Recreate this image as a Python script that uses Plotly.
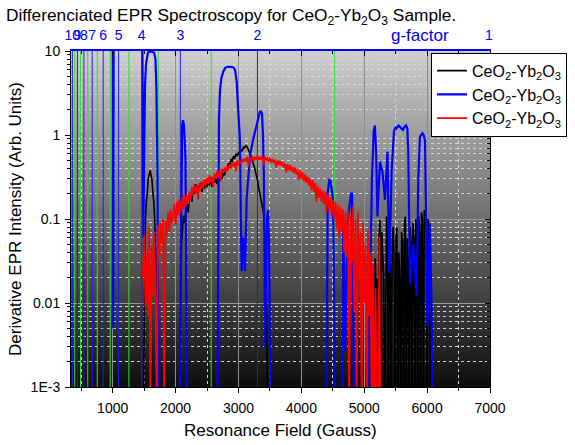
import plotly.graph_objects as go

# ------------------------------------------------------------------ data
x_tick_vals = [1000, 2000, 3000, 4000, 5000, 6000, 7000]
x_minor_vals = [500, 1500, 2500, 3500, 4500, 5500, 6500]
y_tick_vals = [0.001, 0.01, 0.1, 1, 10]
y_tick_text = ["1E-3", "0.01", "0.1", "1", "10"]

g_tick_vals = [1, 2, 3, 4, 5, 6, 7, 8, 9, 10]
g_tick_text = ["1", "2", "3", "4", "5", "6", "7", "8", "9", "10"]
g_marker_blue = [2, 3, 4, 5, 6, 7, 8, 9, 10]
g_marker_green = [1.5, 2.5, 3.5, 4.5, 5.5, 6.5, 7.5, 8.5, 9.5]

black_x = [1480, 1495, 1505, 1520, 1535, 1550, 1565, 1580, 1595, 1610, 1625, 1640, 1655, 1670, 1685, 1700, 1715,
           2060, 2080, 2095, 2110, 2125, 2140, 2160, 2180, 2200, 2220, 2240, 2260, 2280, 2300, 2320, 2340, 2360,
           2380, 2400, 2420, 2440, 2460, 2480, 2500, 2520, 2540, 2560, 2580, 2600, 2620, 2640, 2660, 2680, 2700,
           2720, 2740, 2760, 2780, 2800, 2820, 2840, 2860, 2880, 2900, 2920, 2940, 2960, 2980, 3000, 3020, 3040,
           3060, 3080, 3100, 3120, 3140, 3160, 3180, 3200, 3220, 3240, 3260, 3280, 3300, 3320, 3340, 3360, 3380,
           3400, 3420, 3440, 3455, 3470,
           5160, 5175, 5190, 5205, 5220, 5235, 5250, 5265, 5280, 5295, 5310, 5325, 5340, 5355, 5370, 5385, 5400,
           5415, 5430, 5445, 5460, 5475, 5490, 5505, 5520, 5535, 5550, 5565, 5580, 5595, 5610, 5625, 5640, 5655,
           5670, 5685, 5700, 5715, 5730, 5745, 5760, 5775, 5790, 5805, 5820, 5835, 5850, 5865, 5880, 5895, 5910,
           5925, 5940, 5955, 5970, 5985, 6000, 6015, 6030, 6045, 6060]
black_y = [0.0001, 0.002, 0.05, 0.1, 0.16, 0.2, 0.3, 0.35, 0.38, 0.33, 0.29, 0.2, 0.155, 0.09, 0.039, 0.01, 0.0002,
           0.0002, 0.0068, 0.05, 0.074, 0.11, 0.09, 0.13, 0.155, 0.12, 0.18, 0.2, 0.16, 0.23, 0.2, 0.26, 0.21, 0.25,
           0.22, 0.27, 0.21, 0.26, 0.23, 0.29, 0.24, 0.3, 0.25, 0.31, 0.24, 0.3, 0.27, 0.31, 0.26, 0.33, 0.29,
           0.35, 0.3, 0.36, 0.33, 0.4, 0.38, 0.46, 0.43, 0.52, 0.48, 0.56, 0.52, 0.6, 0.56, 0.63, 0.58, 0.68,
           0.64, 0.72, 0.7, 0.76, 0.72, 0.66, 0.61, 0.55, 0.5, 0.46, 0.4, 0.34, 0.3, 0.24, 0.2, 0.16, 0.13,
           0.117, 0.06, 0.02, 0.0025, 0.0001,
           0.0002, 0.034, 0.008, 0.02, 0.0003, 0.06, 0.098, 0.0002, 0.07, 0.03, 0.02, 0.0004, 0.04, 0.107, 0.06, 0.0002, 0.04,
           0.025, 0.0003, 0.05, 0.081, 0.03, 0.0002, 0.06, 0.08, 0.0003, 0.04, 0.02, 0.0002, 0.07, 0.05, 0.0003, 0.09, 0.107,
           0.0003, 0.06, 0.03, 0.0002, 0.08, 0.05, 0.0004, 0.09, 0.06, 0.0003, 0.1, 0.07, 0.0002, 0.11, 0.08, 0.0003, 0.12,
           0.1, 0.0002, 0.128, 0.09, 0.11, 0.0003, 0.1, 0.07, 0.0053, 0.0002]

blue_x = [340, 1000, 1008, 1016, 1470, 1488, 1500, 1514, 1530, 1545, 1561, 1590, 1630, 1660, 1680, 1694, 1704, 1714, 1724,
          2060, 2080, 2093, 2105, 2118, 2132, 2145, 2158, 2166, 2173, 2185,
          2660, 2674, 2690, 2706, 2730, 2759, 2790, 2833, 2880, 2918, 2945, 2960, 2972, 2992, 3010, 3024, 3038, 3051,
          3075, 3104, 3131, 3151, 3183, 3231, 3278, 3310, 3342, 3360, 3374, 3390, 3406, 3422, 3438, 3454, 3470, 3485,
          3501, 3515,
          4395, 4410, 4419, 4444, 4465, 4482, 4503, 4520, 4535, 4550,
          4650, 4667, 4694, 4740, 4790, 4805, 4826, 4845,
          5040, 5057, 5089, 5123, 5150, 5170, 5190, 5210, 5250, 5290, 5330, 5350, 5370, 5398, 5436, 5473, 5500, 5516,
          5545, 5568, 5590, 5616, 5640, 5664, 5685, 5700, 5727, 5775, 5834, 5860, 5886, 5905, 5926, 5945, 5966, 5985,
          6005, 6030, 6045, 6072, 6093]
blue_y = [30, 30, 0.005, 30, 30, 0.06, 0.5, 4, 7, 8.5, 9.6, 9.8, 9.8, 9.5, 8, 4, 1.5, 0.3, 0.0001,
          0.0001, 0.02, 0.6, 1.3, 1.5, 1.35, 0.9, 0.5, 0.05, 0.0036, 0.0001,
          0.0001, 0.06, 1.5, 3.4, 4.8, 5.7, 6.3, 6.5, 6.5, 6.4, 6.0, 5.0, 4.3, 2.2, 1.2, 0.87, 0.1, 0.024,
          0.06, 0.024, 0.18, 0.3, 0.55, 0.87, 1.2, 1.5, 1.9, 1.9, 1.8, 1.0, 0.3, 0.003, 0.02, 0.1, 0.128, 0.06,
          0.004, 0.0001,
          0.0001, 0.0063, 0.2, 0.3, 0.28, 0.23, 0.17, 0.02, 0.0027, 0.0001,
          0.0001, 0.089, 0.0027, 0.1, 0.2, 0.2, 0.0105, 0.0001,
          0.0001, 0.0015, 0.01, 0.3, 1.1, 1.3, 0.6, 0.107, 0.48, 0.36, 0.17, 0.4, 0.63, 0.023, 0.38, 1.1, 1.25, 1.2,
          1.3, 1.25, 1.2, 1.15, 1.25, 1.3, 1.2, 0.66, 0.017, 0.05, 0.012, 0.3, 0.95, 1.0, 1.05, 1.0, 0.87, 0.1,
          0.0053, 0.04, 0.089, 0.008, 0.0001]

# red spectrum: sampled every 20 G from 1480 G to 5260 G
red_x = list(range(1480, 5261, 20))
red_y = [0.02, 0.065, 0.009, 0.04, 0.007, 0.08, 0.0006, 0.05, 0.012, 0.07,
         0.02, 0.0004, 0.085, 0.035, 0.09, 0.05, 0.1, 0.0005, 0.095, 0.06,
         0.12, 0.07, 0.13, 0.09, 0.11, 0.15, 0.085, 0.16, 0.11, 0.17,
         0.12, 0.18, 0.13, 0.2, 0.14, 0.19, 0.15, 0.21, 0.17, 0.24,
         0.19, 0.26, 0.2, 0.25, 0.17, 0.27, 0.22, 0.28, 0.23, 0.3,
         0.25, 0.31, 0.26, 0.33, 0.27, 0.32, 0.24, 0.35, 0.3, 0.37,
         0.32, 0.38, 0.28, 0.4, 0.35, 0.41, 0.37, 0.43, 0.38, 0.45,
         0.4, 0.47, 0.42, 0.48, 0.37, 0.5, 0.44, 0.49, 0.46, 0.52,
         0.47, 0.53, 0.48, 0.55, 0.42, 0.54, 0.5, 0.56, 0.49, 0.55,
         0.51, 0.57, 0.5, 0.55, 0.51, 0.56, 0.44, 0.55, 0.5, 0.54,
         0.48, 0.53, 0.47, 0.52, 0.46, 0.51, 0.41, 0.5, 0.44, 0.49,
         0.43, 0.48, 0.41, 0.46, 0.36, 0.45, 0.38, 0.44, 0.37, 0.42,
         0.35, 0.41, 0.34, 0.39, 0.29, 0.38, 0.3, 0.36, 0.28, 0.34,
         0.27, 0.32, 0.25, 0.3, 0.22, 0.29, 0.21, 0.27, 0.16, 0.25,
         0.18, 0.23, 0.16, 0.22, 0.15, 0.21, 0.12, 0.2, 0.13, 0.18,
         0.11, 0.17, 0.1, 0.16, 0.075, 0.15, 0.06, 0.14, 0.07, 0.13,
         0.04, 0.12, 0.035, 0.13, 0.0005, 0.11, 0.03, 0.14, 0.008, 0.1,
         0.0003, 0.12, 0.02, 0.07, 0.0004, 0.09, 0.01, 0.05, 0.0003, 0.074,
         0.007, 0.04, 0.0002, 0.03, 0.0003, 0.015, 0.0002, 0.0002, 0.062, 0.0002]

legend_name = "CeO<sub>2</sub>-Yb<sub>2</sub>O<sub>3</sub>"
title_text = "Differenciated EPR Spectroscopy for CeO<sub>2</sub>-Yb<sub>2</sub>O<sub>3</sub> Sample."


def g_to_field(g):
    # field position (Gauss) of a g-factor tick on the top axis
    return 7361.0 / g - 378.0


# ------------------------------------------------------------------ figure
FONT = "Liberation Sans, Arial, sans-serif"
X_RANGE = [337, 7000]
Y_RANGE = [-3, 1]
y_minor_vals = [m * 10.0 ** e for e in range(-3, 1) for m in range(2, 10)]

fig = go.Figure()


def vlines(fields):
    xs, ys = [], []
    for f in fields:
        xs += [f, f, None]
        ys += [1e-4, 1e2, None]
    return xs, ys


gx, gy = vlines([g_to_field(g) for g in g_marker_green])
fig.add_trace(go.Scatter(x=gx, y=gy, mode="lines", line=dict(color="#2ee02e", width=1),
                         showlegend=False, hoverinfo="skip"))
bx, by = vlines([g_to_field(g) for g in g_marker_blue])
fig.add_trace(go.Scatter(x=bx, y=by, mode="lines", line=dict(color="#1a1aff", width=1),
                         showlegend=False, hoverinfo="skip"))

fig.add_trace(go.Scatter(x=black_x, y=black_y, mode="lines", name=legend_name,
                         line=dict(color="black", width=1.6), xaxis="x2", yaxis="y"))
fig.add_trace(go.Scatter(x=blue_x, y=blue_y, mode="lines", name=legend_name,
                         line=dict(color="#0000ff", width=2.2), xaxis="x2", yaxis="y"))
fig.add_trace(go.Scatter(x=red_x, y=red_y, mode="lines", name=legend_name,
                         line=dict(color="#ff0000", width=1.7), xaxis="x3", yaxis="y2"))

# gradient plot background
n = 90
shapes = []
for i in range(n):
    t0, t1 = i / n, (i + 1) / n
    v = int(round(14 + (206 - 14) * (t0 + t1) / 2))
    shapes.append(dict(type="rect", xref="x domain", yref="y domain", x0=0, x1=1,
                       y0=t0, y1=min(1, t1 + 0.003), fillcolor=f"rgb({v},{v},{v})",
                       line=dict(width=0), layer="below"))

tickfont = dict(family=FONT, size=14, color="black")

fig.update_layout(
    width=575, height=445, autosize=False,
    margin=dict(l=71, r=85, t=51, b=58, autoexpand=False),
    paper_bgcolor="white", plot_bgcolor="#777777",
    font=dict(family=FONT, size=14, color="black"),
    shapes=shapes,
    title=dict(text=title_text, x=0, xref="container", xanchor="left",
               y=1 - 15 / 445, yref="container", yanchor="middle", pad=dict(l=6, t=0, r=0, b=0),
               font=dict(family=FONT, size=17.3, color="black")),
    xaxis=dict(range=X_RANGE, tickmode="array", tickvals=x_tick_vals, ticks="outside", ticklen=5,
               tickcolor="black", showline=True, linecolor="black", linewidth=1, mirror=False,
               showgrid=True, gridcolor="#8e8e8e", gridwidth=1, zeroline=False, tickfont=tickfont,
               automargin=False, ticklabelstandoff=3,
               minor=dict(tickmode="array", tickvals=x_minor_vals, ticks="outside", ticklen=3,
                          tickcolor="black", showgrid=True, griddash="dot", gridcolor="#d6d6d6",
                          gridwidth=1)),
    yaxis=dict(type="log", range=Y_RANGE, tickmode="array", tickvals=y_tick_vals, ticktext=y_tick_text,
               ticks="outside", ticklen=5, tickcolor="black", showline=True, linecolor="black",
               linewidth=1, showgrid=True, gridcolor="#9a9a9a", gridwidth=1, zeroline=False,
               tickfont=tickfont, automargin=False, ticklabelstandoff=2,
               minor=dict(tickmode="array", tickvals=y_minor_vals, ticks="outside", ticklen=3,
                          tickcolor="black", showgrid=True, griddash="dot", gridcolor="#d6d6d6",
                          gridwidth=1)),
    xaxis2=dict(overlaying="x", side="top", anchor="y", range=X_RANGE, tickmode="array",
                tickvals=[g_to_field(g) for g in g_tick_vals], ticktext=g_tick_text, tickangle=0,
                ticks="", ticklabelstandoff=3, showline=True, linecolor="#0000ff", linewidth=2,
                showgrid=False, zeroline=False, automargin=False,
                tickfont=dict(family=FONT, size=14, color="#0000ff")),
    xaxis3=dict(overlaying="x", side="top", anchor="y2", range=X_RANGE, tickmode="array",
                tickvals=x_tick_vals, ticks="inside", ticklen=5, tickcolor="black",
                showticklabels=False, showline=False, showgrid=False, zeroline=False, automargin=False,
                minor=dict(tickmode="array", tickvals=x_minor_vals, ticks="inside", ticklen=3,
                           tickcolor="black", showgrid=False)),
    yaxis2=dict(overlaying="y", side="right", anchor="x3", type="log", range=Y_RANGE, tickmode="array",
                tickvals=y_tick_vals, ticks="inside", ticklen=5, tickcolor="black", showticklabels=False,
                showline=True, linecolor="black", linewidth=1, showgrid=False, zeroline=False,
                automargin=False,
                minor=dict(tickmode="array", tickvals=y_minor_vals, ticks="inside", ticklen=3,
                           tickcolor="black", showgrid=False)),
    legend=dict(x=(431 - 71) / 419, xanchor="left", y=(387 - 52.7) / 336, yanchor="top",
                bgcolor="white", bordercolor="black", borderwidth=1,
                font=dict(family=FONT, size=16, color="black"), tracegroupgap=0),
    annotations=[
        dict(text="g-factor", xref="paper", yref="paper", x=(420 - 71) / 419, y=1, yshift=16,
             xanchor="center", yanchor="middle", showarrow=False,
             font=dict(family=FONT, size=17, color="#0000ff")),
        dict(text="Resonance Field (Gauss)", xref="paper", yref="paper", x=0.5, y=0, yshift=-43,
             xanchor="center", yanchor="middle", showarrow=False,
             font=dict(family=FONT, size=17, color="black")),
        dict(text="Derivative EPR Intensity (Arb. Units)", xref="paper", yref="paper", x=0, y=0.5,
             xshift=-56, xanchor="center", yanchor="middle", textangle=-90, showarrow=False,
             font=dict(family=FONT, size=17, color="black")),
    ],
)

fig.write_html("out.html", config={"displayModeBar": False},
               post_script="document.body.style.margin='0';document.body.style.overflow='hidden';")
